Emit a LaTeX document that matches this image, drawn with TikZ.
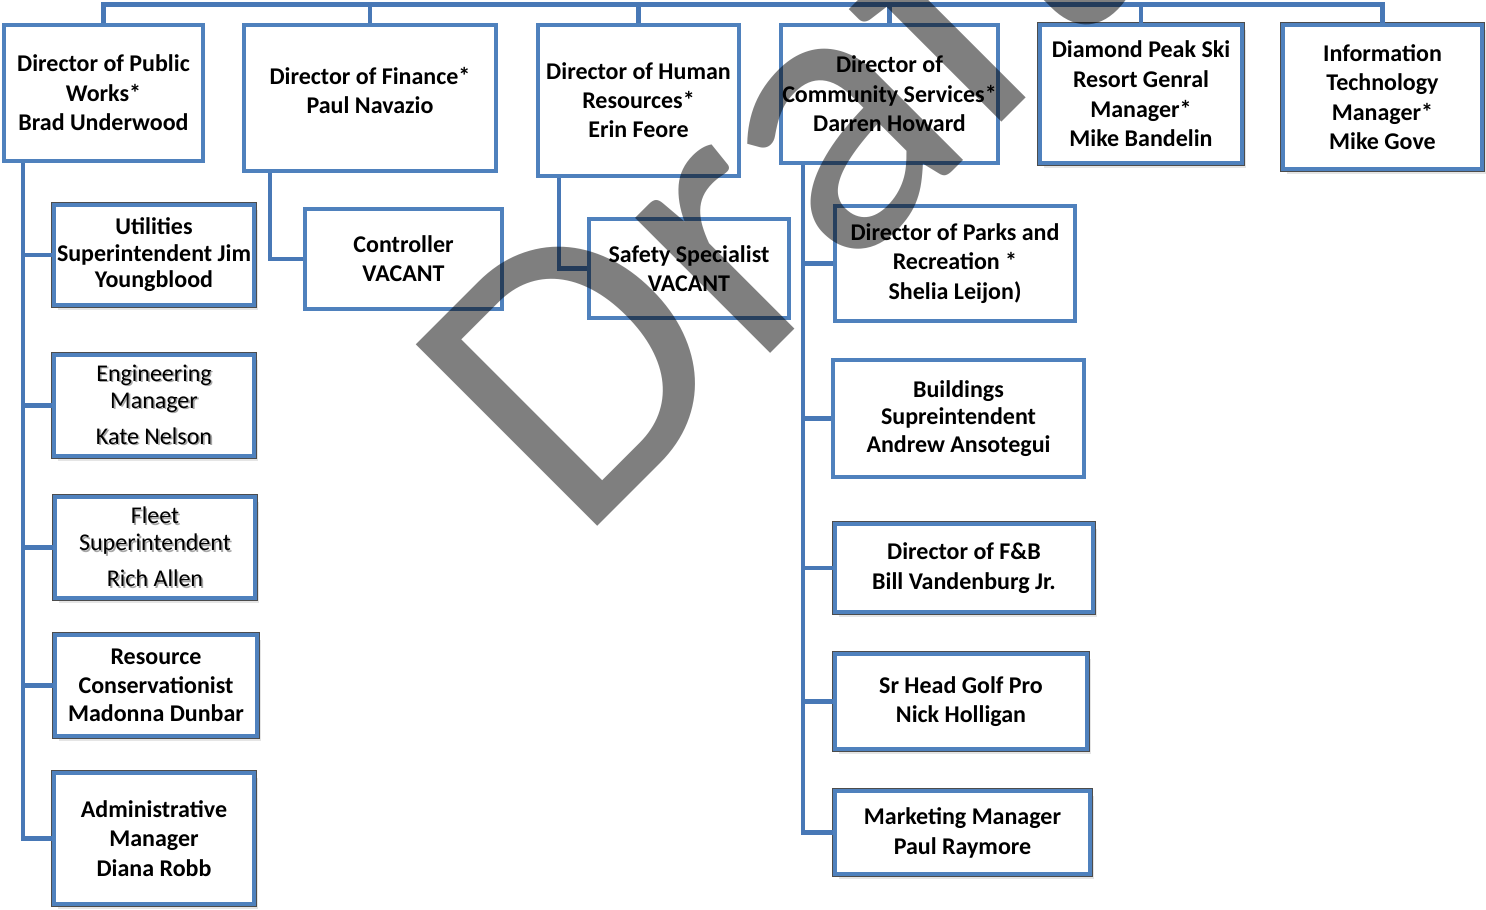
\documentclass[tikz,border=0pt]{standalone}
\usepackage{fontspec}
\setmainfont{Carlito}
\usetikzlibrary{shadows}
\definecolor{boxblue}{HTML}{4F81BD}
\definecolor{connblue}{HTML}{4878B6}
\newcommand\shl[1]{\leavevmode\rlap{\raisebox{-1.6pt}{\hspace{1.6pt}\textcolor{black!35}{#1}}}#1}
\newcommand\obox[7]{\node[box,#6,minimum width={(#4-#2-4)*1pt},minimum height={(#5-#3-4)*1pt}] (#1) at ({(#2+#4)/2},{(#3+#5)/2}) {#7};}
\tikzset{
  box/.style={draw=boxblue, line width=4pt, fill=white, inner sep=0pt, align=center,
    font=\fontsize{24}{29.5}\selectfont\bfseries},
  lead/.style={font=\fontsize{24}{#1}\selectfont\bfseries},
  plainlead/.style={font=\fontsize{24}{#1}\selectfont\mdseries},
  shadowed/.style={
    drop shadow={shadow xshift=4pt,shadow yshift=-5pt,opacity=.10,fill=black},
    drop shadow={shadow xshift=2.5pt,shadow yshift=-3pt,opacity=.22,fill=black},
    preaction={draw=black!70,line width=5.4pt}},
  conn/.style={draw=connblue, line width=4.2pt},
  wmark/.style={font=\fontsize{400}{400}\selectfont\mdseries, text=black, text opacity=0.5,
    rotate=45, anchor=base west, inner sep=0pt}
}
\begin{document}
\begin{tikzpicture}[x=1pt,y=-1pt]
\useasboundingbox (0,0) rectangle (1486,910);
\clip (0,0) rectangle (1486,910);
\fill[white] (0,0) rectangle (1486,910);

% top row
\obox{pw}{2}{23}{205}{163}{lead=29.5}{Director of Public\\Works*\\ Brad Underwood}
\obox{fin}{242}{23}{498}{173}{lead=29}{Director of Finance*\\Paul Navazio\\[-14.5pt]\mbox{}}
\obox{hr}{536}{23}{741}{178}{lead=29}{Director of Human\\Resources*\\Erin Feore}
\obox{cs}{779}{23}{1000}{165}{lead=29.5}{Director of\\Community Services*\\Darren Howard}
\obox{dp}{1038}{23}{1244}{165}{lead=29.7,shadowed}{Diamond Peak Ski\\Resort Genral\\Manager*\\Mike Bandelin}
\obox{it}{1281}{23}{1484}{171}{lead=29.3,shadowed}{Information\\Technology\\Manager*\\Mike Gove}

% public works column
\obox{util}{52}{203}{256}{307}{lead=26.5,shadowed}{Utilities\\Superintendent Jim\\Youngblood}
\obox{eng}{52}{353}{256}{458}{plainlead=27,shadowed}{\shl{Engineering}\\\shl{Manager}\\[9pt]\shl{Kate Nelson}}
\obox{fleet}{53}{495}{257}{600}{plainlead=27,shadowed}{\shl{Fleet}\\\shl{Superintendent}\\[9pt]\shl{Rich Allen}}
\obox{res}{53}{633}{259}{738}{lead=28.5,shadowed}{Resource\\Conservationist\\Madonna Dunbar}
\obox{adm}{52}{771}{256}{906}{lead=29.5,shadowed}{Administrative\\Manager\\Diana Robb}

% finance / HR children
\obox{ctrl}{303}{207}{504}{311}{lead=29}{Controller\\VACANT}
\obox{safe}{587}{217}{791}{320}{lead=29}{Safety Specialist\\VACANT}

% community services column
\obox{parks}{833}{204}{1077}{323}{lead=29.5}{Director of Parks and\\Recreation *\\Shelia Leijon)}
\obox{bldg}{831}{358}{1086}{479}{lead=27.5}{Buildings\\Supreintendent\\Andrew Ansotegui}
\obox{fb}{833}{522}{1095}{614}{lead=30,shadowed}{Director of F\&B\\Bill Vandenburg Jr.}
\obox{golf}{833}{652}{1089}{751}{lead=29,shadowed}{Sr Head Golf Pro\\Nick Holligan}
\obox{mkt}{833}{789}{1092}{876}{lead=30,shadowed}{Marketing Manager\\Paul Raymore}

% connectors
\coordinate (bus) at (0,4.5);
\coordinate (pwt) at (23,0);
\coordinate (fint) at (270,0);
\coordinate (hrt) at (559,0);
\coordinate (cst) at (803,0);
\draw[conn] (pw.north) -- (pw.north |- bus) -- (it.north |- bus) -- (it.north);
\foreach \n in {fin,hr,cs,dp} \draw[conn] (\n.north) -- (\n.north |- bus);
\foreach \n in {util,eng,fleet,res,adm} \draw[conn] (pwt |- pw.south) |- (\n.west);
\draw[conn] (fint |- fin.south) |- (ctrl.west);
\draw[conn] (hrt |- hr.south) |- (safe.west);
\foreach \n in {parks,bldg,fb,golf,mkt} \draw[conn] (cst |- cs.south) |- (\n.west);

% watermark
\node[wmark] (wm) at (578,546) {Draft};
\end{tikzpicture}
\end{document}
